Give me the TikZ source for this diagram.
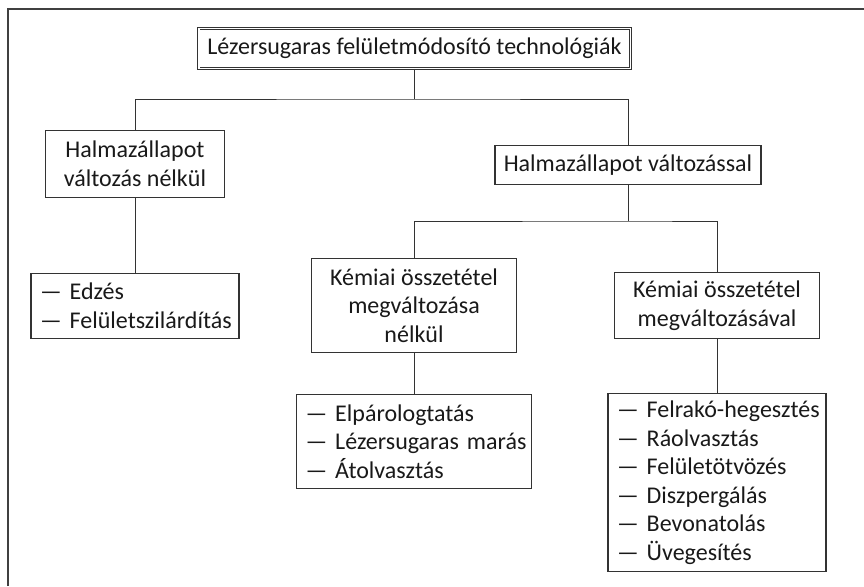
\documentclass[tikz,border=0pt]{standalone}
\usepackage{fontspec}
\setmainfont{Carlito}
\newcommand{\itm}[1]{\mbox{—\ #1}}
\tikzset{
    box/.style={draw=black!80, line width=1.1pt, rectangle, align=center, inner sep=0pt, font=\fontsize{24}{28.5}\selectfont, text=black!90},
    rootbox/.style={box, double, double distance=1.6pt, line width=0.9pt},
    listbox/.style={box, align=left, inner xsep=9pt},
    link/.style={draw=black!80, line width=0.9pt}
}

\begin{document}
\begin{tikzpicture}[x=1pt, y=-1pt]
    \useasboundingbox (0,0) rectangle (864,586);
    \draw[line width=1.4pt, black!75] (8,586) -- (8,9) -- (864,9);
    \node[rootbox, minimum width=431.6pt, minimum height=39.6pt] (root) at (414.5,48.5) {Lézersugaras felületmódosító technológiák};
    \node[box, minimum width=179pt, minimum height=67pt] (leftstate) at (135,164) {Halmazállapot\\változás nélkül};
    \node[box, minimum width=266pt, minimum height=39pt] (rightstate) at (628,165) {Halmazállapot változással};
    \node[listbox, text width=190pt, minimum height=65pt] (leftlist) at (135,306) {\itm{Edzés}\\\itm{Felületszilárdítás}};
    \node[box, minimum width=205pt, minimum height=94pt] (midchem) at (414,305.5) {Kémiai összetétel\\megváltozása\\nélkül};
    \node[box, minimum width=205pt, minimum height=66pt] (rightchem) at (717,305.5) {Kémiai összetétel\\megváltozásával};
    \node[listbox, text width=217pt, minimum height=94pt] (midlist) at (414,441.5) {\itm{Elpárologtatás}\\\itm{Lézersugaras marás}\\\itm{Átolvasztás}};
    \node[listbox, text width=200pt, minimum height=178pt] (rightlist) at (717,482.5) {\itm{Felrakó-hegesztés}\\\itm{Ráolvasztás}\\\itm{Felületötvözés}\\\itm{Diszpergálás}\\\itm{Bevonatolás}\\\itm{Üvegesítés}};
    % forks
    \coordinate (fork1) at (414.5,99);
    \coordinate (fork2) at (628,221);
    \draw[link] (root.south) -- (fork1);
    \draw[link] (leftstate.north) |- (fork1) -| (rightstate.north);
    \draw[link] (rightstate.south) -- (fork2);
    \draw[link] (midchem.north) |- (fork2) -| (rightchem.north);
    \draw[link] (leftstate.south) -- (leftlist.north);
    \draw[link] (midchem.south) -- (midlist.north);
    \draw[link] (rightchem.south) -- (rightlist.north);
\end{tikzpicture}
\end{document}
